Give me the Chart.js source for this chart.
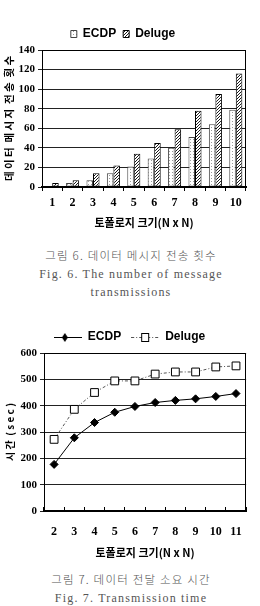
<!DOCTYPE html>
<html>
<head>
<meta charset="utf-8">
<script src="https://cdn.jsdelivr.net/npm/chart.js@4/dist/chart.umd.min.js"></script>
<style>
  html, body { margin:0; padding:0; background:#fff; width:260px; height:606px; overflow:hidden; }
  .wrap { position:absolute; left:0; width:260px; }
  .cap { position:absolute; left:0; width:262px; text-align:center; color:#555;
         font-family:"Liberation Serif","Noto Sans CJK KR",serif; font-size:12px; letter-spacing:1.2px; white-space:nowrap; }
  .cap div { height:18.5px; line-height:18.5px; }
  .cap .ko { font-family:"Noto Sans CJK KR",sans-serif; font-weight:300; font-size:11.5px; }
</style>
</head>
<body>
<div class="wrap" style="top:0;height:232px;"><canvas id="c1" width="260" height="232"></canvas></div>
<div class="cap" style="top:246px;">
  <div class="ko">그림 6. 데이터 메시지 전송 횟수</div>
  <div>Fig. 6. The number of message</div>
  <div>transmissions</div>
</div>
<div class="wrap" style="top:320px;height:245px;"><canvas id="c2" width="260" height="245"></canvas></div>
<div class="cap" style="top:570px;">
  <div class="ko">그림 7. 데이터 전달 소요 시간</div>
  <div>Fig. 7. Transmission time</div>
</div>
<script>
// ---------- data ----------
const countCategories = ['1','2','3','4','5','6','7','8','9','10'];
const ecdpCount   = [1, 4, 7, 14, 21, 29, 40, 51, 64, 79];
const delugeCount = [4, 7, 14, 22, 34, 45, 59, 78, 95, 116];

const timeCategories = ['2','3','4','5','6','7','8','9','10','11'];
const ecdpTime   = [177, 278, 336, 375, 397, 412, 420, 426, 435, 446];
const delugeTime = [272, 386, 450, 494, 494, 520, 528, 528, 547, 551];

const seriesNames = ['ECDP', 'Deluge'];
const countAxisTitle = '데 이 터  메 시 지  전 송  횟 수';
const timeAxisTitle = '시 간  ( s e c )';
const xAxisTitle = '토폴로지 크기(N x N)';

// ---------- styles ----------
function makePattern(type) {
  const c = document.createElement('canvas');
  const n = 3;
  c.width = n; c.height = n;
  const g = c.getContext('2d');
  g.fillStyle = '#fff'; g.fillRect(0, 0, n, n);
  if (type === 'dots') {
    g.fillStyle = '#9a9a9a'; g.fillRect(1, 1, 1, 1);
  } else {
    g.fillStyle = '#1a1a1a';
    for (let i = 0; i < n; i++) g.fillRect(i, n - 1 - i, 1, 1);
  }
  return g.createPattern(c, 'repeat');
}
function legendIcon(kind) {
  const c = document.createElement('canvas');
  c.width = 28; c.height = 10;
  const g = c.getContext('2d');
  g.strokeStyle = kind === 'ecdp' ? '#000' : '#555';
  g.lineWidth = 1;
  if (kind !== 'ecdp') g.setLineDash([3, 2, 1, 2]);
  g.beginPath(); g.moveTo(0, 5.5); g.lineTo(28, 5.5); g.stroke();
  g.setLineDash([]);
  if (kind === 'ecdp') {
    g.fillStyle = '#000';
    g.beginPath(); g.moveTo(11, 1); g.lineTo(14, 5.5); g.lineTo(11, 10); g.lineTo(8, 5.5); g.closePath(); g.fill();
  } else {
    g.fillStyle = '#fff'; g.strokeStyle = '#000';
    g.fillRect(10.5, 1.5, 7, 8); g.strokeRect(10.5, 1.5, 7, 8);
  }
  return c;
}

const frame = {
  id: 'frame',
  afterDatasetsDraw(chart) {
    const { ctx, chartArea: a } = chart;
    ctx.save();
    ctx.strokeStyle = '#000'; ctx.lineWidth = 1;
    ctx.strokeRect(Math.round(a.left) + 0.5, Math.round(a.top) + 0.5,
                   Math.round(a.right - a.left) - 1, Math.round(a.bottom - a.top) - 1);
    ctx.restore();
  }
};

const serifBold = { family: '"Liberation Serif", serif', weight: 'bold' };

// ---------- chart 1 ----------
new Chart(document.getElementById('c1'), {
  type: 'bar',
  data: {
    labels: countCategories,
    datasets: [
      { label: seriesNames[0], data: ecdpCount, backgroundColor: makePattern('dots'),
        borderColor: '#444', borderWidth: 1, borderSkipped: false },
      { label: seriesNames[1], data: delugeCount, backgroundColor: makePattern('hatch'),
        borderColor: '#000', borderWidth: 1, borderSkipped: false }
    ]
  },
  options: {
    responsive: false, animation: false,
    layout: { padding: { top: 21, right: 14, left: 0, bottom: 0 } },
    datasets: { bar: { categoryPercentage: 0.64, barPercentage: 1 } },
    plugins: {
      tooltip: { enabled: false },
      legend: {
        position: 'top',
        labels: { boxWidth: 6, boxHeight: 7, padding: 7, color: '#000',
                  font: { family: '"Liberation Sans", Arial, sans-serif', weight: 'bold', size: 12 } }
      }
    },
    scales: {
      x: {
        grid: { display: true, drawOnChartArea: false, drawTicks: true, tickLength: 4, color: '#000', offset: true },
        border: { color: '#000', width: 2 },
        ticks: { color: '#000', padding: 5, font: { ...serifBold, size: 12 } },
        title: { display: true, text: xAxisTitle, color: '#000', padding: { top: 0, bottom: 3 },
                 font: { family: '"Noto Sans CJK KR", sans-serif', weight: 'bold', size: 11 } },
        afterFit: s => { s.height = 45; }
      },
      y: {
        min: 0, max: 140,
        grid: { color: '#222', tickLength: 4 },
        border: { color: '#000', width: 1 },
        ticks: { stepSize: 20, color: '#000', padding: 3, font: { ...serifBold, size: 11 } },
        title: { display: true, text: countAxisTitle, color: '#000', padding: { top: 3, bottom: 0 },
                 font: { family: '"Noto Sans CJK KR", sans-serif', weight: 'bold', size: 10.5 } },
        afterFit: s => { s.width = 42; }
      }
    }
  },
  plugins: [frame]
});

// ---------- chart 2 ----------
new Chart(document.getElementById('c2'), {
  type: 'line',
  data: {
    labels: timeCategories,
    datasets: [
      { label: seriesNames[0], data: ecdpTime, borderColor: '#000', borderWidth: 1,
        pointStyle: 'rectRot', pointRadius: 4, pointBackgroundColor: '#000', pointBorderColor: '#000',
        tension: 0, fill: false },
      { label: seriesNames[1], data: delugeTime, borderColor: '#555', borderWidth: 1,
        borderDash: [3, 2, 1, 2],
        pointStyle: 'rect', pointRadius: 5.5, pointBackgroundColor: '#fff', pointBorderColor: '#000',
        pointBorderWidth: 1, tension: 0, fill: false }
    ]
  },
  options: {
    responsive: false, animation: false,
    layout: { padding: { top: 1, right: 1, left: 0, bottom: 0 } },
    plugins: {
      tooltip: { enabled: false },
      legend: {
        position: 'top',
        labels: {
          usePointStyle: true, pointStyleWidth: 28, padding: 10, color: '#000',
          font: { family: '"Liberation Sans", Arial, sans-serif', weight: 'bold', size: 12 },
          generateLabels: chart => chart.data.datasets.map((d, i) => ({
            text: d.label, datasetIndex: i, pointStyle: legendIcon(i === 0 ? 'ecdp' : 'deluge'),
            fillStyle: '#fff', strokeStyle: '#000', lineWidth: 0, fontColor: '#000', hidden: false
          }))
        }
      }
    },
    scales: {
      x: {
        offset: true,
        grid: { display: true, offset: true, drawOnChartArea: false, drawTicks: true, tickLength: -4, color: '#000' },
        border: { color: '#000', width: 2 },
        ticks: { color: '#000', padding: 18, font: { ...serifBold, size: 12 } },
        title: { display: true, text: xAxisTitle, color: '#000', padding: { top: 0, bottom: 6 },
                 font: { family: '"Noto Sans CJK KR", sans-serif', weight: 'bold', size: 11 } },
        afterFit: s => { s.height = 54; }
      },
      y: {
        min: 0, max: 600,
        grid: { color: '#222', tickLength: 4 },
        border: { color: '#000', width: 1 },
        ticks: { stepSize: 100, color: '#000', padding: 3, font: { ...serifBold, size: 11 } },
        title: { display: true, text: timeAxisTitle, color: '#000', padding: { top: 4, bottom: 0 },
                 font: { family: '"Noto Sans CJK KR", sans-serif', weight: 'bold', size: 10 } },
        afterFit: s => { s.width = 44; }
      }
    }
  },
  plugins: [frame]
});
</script>
</body>
</html>
